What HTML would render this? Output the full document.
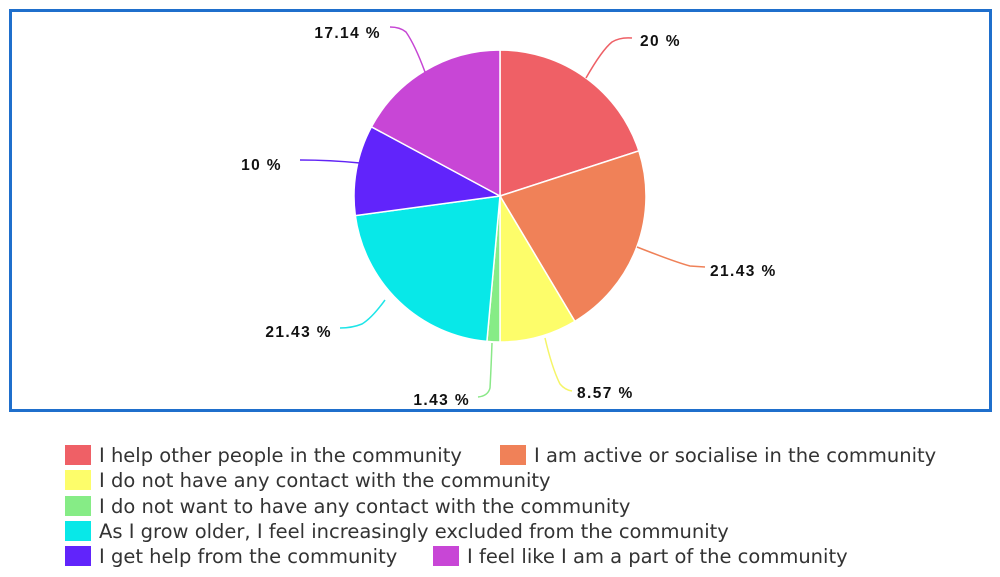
<!DOCTYPE html>
<html><head><style>
body{margin:0;background:#fff;width:1000px;height:577px;overflow:hidden;font-family:"DejaVu Sans","Liberation Sans",sans-serif;}
.lg{position:absolute;font-size:19.5px;color:#333;white-space:nowrap;}
.sw{position:absolute;width:26px;height:20px;}
</style></head><body>
<svg width="1000" height="577" style="position:absolute;left:0;top:0">
<rect x="10.5" y="10.5" width="980" height="400" fill="none" stroke="#1f6fcc" stroke-width="3"/>
<g id="pie"></g>
<g fill="none" stroke-width="1.5">
<path d="M586,78 Q602,50 612,42 Q620,37 632,38" stroke="#ee6066"/>
<path d="M637,247 Q675,262 690,266 L705,267" stroke="#ef8158"/>
<path d="M545,338 Q552,368 560,384 Q565,390 572,391" stroke="#f5f568"/>
<path d="M492,343 Q491,370 490,388 Q488,396 478,397" stroke="#8ae888"/>
<path d="M385,300 Q372,318 362,324 Q352,328 340,328" stroke="#1ee5e8"/>
<path d="M360,163 Q330,160 300,160" stroke="#6124f5"/>
<path d="M425,72 Q415,45 406,32 Q400,27 390,27" stroke="#c646d4"/>
</g>
<g font-family="Liberation Sans, sans-serif" font-weight="bold" font-size="15.5" letter-spacing="1.4" fill="#111">
<text x="640" y="46">20 %</text>
<text x="710" y="276">21.43 %</text>
<text x="577" y="398">8.57 %</text>
<text x="470" y="405" text-anchor="end">1.43 %</text>
<text x="332" y="337" text-anchor="end">21.43 %</text>
<text x="282" y="170" text-anchor="end">10 %</text>
<text x="381" y="38" text-anchor="end">17.14 %</text>
</g>
</svg>
<div class="sw" style="left:65px;top:445px;background:#ef6066"></div><div class="lg" style="left:99px;top:444px">I help other people in the community</div>
<div class="sw" style="left:500px;top:445px;background:#f08158"></div><div class="lg" style="left:534px;top:444px">I am active or socialise in the community</div>
<div class="sw" style="left:65px;top:470px;background:#fdfd6a"></div><div class="lg" style="left:99px;top:469px">I do not have any contact with the community</div>
<div class="sw" style="left:65px;top:496px;background:#86ec86"></div><div class="lg" style="left:99px;top:495px">I do not want to have any contact with the community</div>
<div class="sw" style="left:65px;top:521px;background:#08e8e8"></div><div class="lg" style="left:99px;top:520px">As I grow older, I feel increasingly excluded from the community</div>
<div class="sw" style="left:65px;top:546px;background:#6124fb"></div><div class="lg" style="left:99px;top:545px">I get help from the community</div>
<div class="sw" style="left:433px;top:546px;background:#c846d6"></div><div class="lg" style="left:467px;top:545px">I feel like I am a part of the community</div>
<script>
var d=[[20,"#ef6066"],[21.43,"#f08158"],[8.57,"#fdfd6a"],[1.43,"#86ec86"],[21.43,"#08e8e8"],[10,"#6124fb"],[17.14,"#c846d6"]];
var cx=500,cy=196,r=146,a=0,s="";
d.forEach(function(p){var b=a+p[0]/100*2*Math.PI;
var x1=cx+r*Math.sin(a),y1=cy-r*Math.cos(a),x2=cx+r*Math.sin(b),y2=cy-r*Math.cos(b);
s+='<path d="M'+cx+','+cy+' L'+x1+','+y1+' A'+r+','+r+' 0 '+((b-a)>Math.PI?1:0)+',1 '+x2+','+y2+' Z" fill="'+p[1]+'" stroke="#fff" stroke-width="1.5"/>';a=b;});
document.getElementById("pie").innerHTML=s;
</script>
</body></html>
